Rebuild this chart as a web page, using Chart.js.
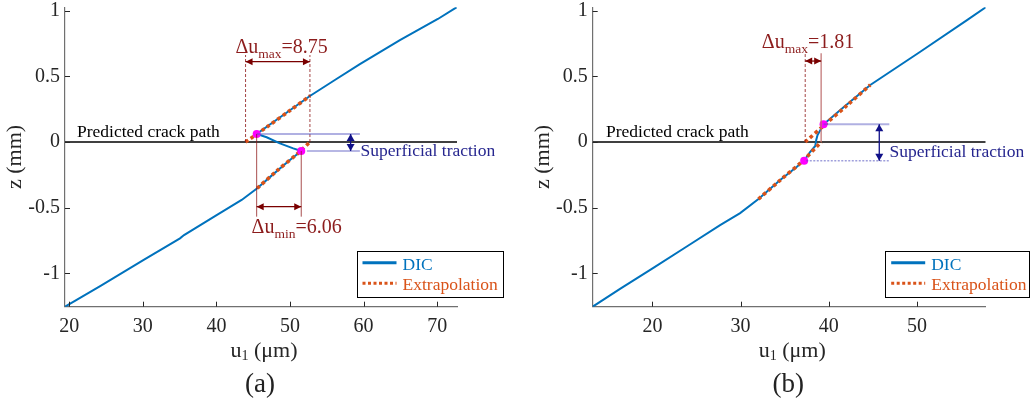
<!DOCTYPE html>
<html>
<head>
<meta charset="utf-8">
<script src="https://cdn.jsdelivr.net/npm/chart.js@4.4.1/dist/chart.umd.min.js"></script>
<style>
  html, body { margin: 0; padding: 0; background: #ffffff; }
  #wrap { position: relative; width: 1030px; height: 402px; }
  .panel { position: absolute; top: 0; width: 515px; height: 402px; }
</style>
</head>
<body>
<div id="wrap">
  <div class="panel" style="left:0"><canvas id="ca" width="515" height="402"></canvas></div>
  <div class="panel" style="left:515px"><canvas id="cb" width="515" height="402"></canvas></div>
</div>
<script>
// ---- shared axis ticks ----
const zTicks = [-1, -0.5, 0, 0.5, 1];
const zTickLabels = ['-1', '-0.5', '0', '0.5', '1'];

// ---- panel (a) ----
const uTicksA = [20, 30, 40, 50, 60, 70];
const dicA_u = [19.42, 24.2, 30.06, 35.05, 35.6, 40.03, 43.43, 45.55, 47.62, 49.7, 51.53, 50.44, 48.63, 46.83, 45.47, 48.95, 52.71, 56.1, 59.5, 64.94, 70.1, 72.64];
const dicA_z = [-1.253, -1.096, -0.898, -0.733, -0.708, -0.556, -0.441, -0.352, -0.25, -0.15, -0.068, -0.048, -0.010, 0.036, 0.061, 0.2, 0.35, 0.472, 0.592, 0.775, 0.936, 1.025];
const extUpA_u = [43.96, 47.0, 50.0, 52.71];
const extUpA_z = [0.0, 0.12, 0.24, 0.35];
const extLoA_u = [45.55, 48.2, 51.0, 52.71];
const extLoA_z = [-0.352, -0.22, -0.09, 0.0];
const tipA_u = [45.47, 51.53];
const tipA_z = [0.061, -0.068];

// ---- panel (b) ----
const uTicksB = [20, 30, 40, 50];
const dicB_u = [13.23, 16.33, 20.11, 23.9, 27.68, 29.95, 32.03, 34.49, 36.39, 37.21, 37.9, 38.47, 38.58, 38.73, 39.41, 41.68, 44.71, 50.38, 55.68, 57.8];
const dicB_z = [-1.253, -1.117, -0.958, -0.795, -0.632, -0.541, -0.434, -0.289, -0.188, -0.142, -0.074, -0.030, 0.015, 0.053, 0.135, 0.264, 0.434, 0.687, 0.928, 1.025];
const extUpB_u = [37.33, 39.6, 42.1, 44.71];
const extUpB_z = [0.0, 0.135, 0.28, 0.434];
const extLoB_u = [32.03, 34.5, 36.95, 39.14];
const extLoB_z = [-0.434, -0.29, -0.15, 0.0];
const tipB_u = [39.41, 37.21];
const tipB_z = [0.135, -0.142];

const SERIF = '"Liberation Serif", "Times New Roman", Times, serif';
const BLUE = '#0072BD';
const ORANGE = '#D95319';
const MAGENTA = '#FF00FF';
const DARKRED = '#8c1c1c';
const NAVY = '#101088';
const NAVYTXT = '#26268f';

const pts = (us, zs) => us.map((u, i) => ({ x: u, y: zs[i] }));

function rich(ctx, parts, x, yBase, align, color) {
  ctx.save();
  ctx.fillStyle = color;
  ctx.textBaseline = 'alphabetic';
  ctx.textAlign = 'left';
  let w = 0;
  for (const p of parts) { ctx.font = p.size + 'px ' + SERIF; p.w = ctx.measureText(p.t).width; w += p.w; }
  let cx = align === 'center' ? x - w / 2 : (align === 'right' ? x - w : x);
  for (const p of parts) {
    ctx.font = p.size + 'px ' + SERIF;
    ctx.fillText(p.t, cx, yBase + (p.dy || 0));
    cx += p.w;
  }
  ctx.restore();
}

function head(ctx, tx, ty, dx, dy, len, half) {
  const bx = tx - dx * len, by = ty - dy * len;
  ctx.beginPath();
  ctx.moveTo(tx, ty);
  ctx.lineTo(bx - dy * half, by + dx * half);
  ctx.lineTo(bx + dy * half, by - dx * half);
  ctx.closePath();
  ctx.fill();
}

function hArrow(ctx, x1, x2, y, color) {
  ctx.save();
  ctx.strokeStyle = color; ctx.fillStyle = color; ctx.lineWidth = 1.3;
  ctx.beginPath(); ctx.moveTo(x1, y); ctx.lineTo(x2, y); ctx.stroke();
  head(ctx, x1, y, -1, 0, 7, 3.5);
  head(ctx, x2, y, 1, 0, 7, 3.5);
  ctx.restore();
}

function vArrow(ctx, x, y1, y2, color) {
  ctx.save();
  ctx.strokeStyle = color; ctx.fillStyle = color; ctx.lineWidth = 1.3;
  ctx.beginPath(); ctx.moveTo(x, y1); ctx.lineTo(x, y2); ctx.stroke();
  head(ctx, x, y1, 0, -1, 7, 4);
  head(ctx, x, y2, 0, 1, 7, 4);
  ctx.restore();
}

function vLine(ctx, x, y1, y2, color, dash, width) {
  ctx.save();
  ctx.strokeStyle = color; ctx.lineWidth = width || 1;
  ctx.setLineDash(dash || []);
  ctx.beginPath(); ctx.moveTo(x, y1); ctx.lineTo(x, y2); ctx.stroke();
  ctx.restore();
}

function hLine(ctx, x1, x2, y, color, dash, width) {
  ctx.save();
  ctx.strokeStyle = color; ctx.lineWidth = width || 1;
  ctx.setLineDash(dash || []);
  ctx.beginPath(); ctx.moveTo(x1, y); ctx.lineTo(x2, y); ctx.stroke();
  ctx.restore();
}

function overlay(spec) {
  return {
    id: 'overlay' + spec.tag,
    afterDatasetsDraw(chart) {
      const ctx = chart.ctx;
      const a = chart.chartArea;
      const X = u => chart.scales.x.getPixelForValue(u);
      const Y = z => chart.scales.y.getPixelForValue(z);

      // inward tick marks
      ctx.save();
      ctx.strokeStyle = '#262626'; ctx.lineWidth = 1;
      for (const u of spec.uTicks) {
        const x = Math.round(X(u)) + 0.5;
        ctx.beginPath(); ctx.moveTo(x, a.bottom); ctx.lineTo(x, a.bottom - 5); ctx.stroke();
      }
      for (const z of zTicks) {
        const y = Math.round(Y(z)) + 0.5;
        ctx.beginPath(); ctx.moveTo(a.left, y); ctx.lineTo(a.left + 5, y); ctx.stroke();
      }
      ctx.restore();

      // crack path label
      rich(ctx, [{ t: 'Predicted crack path', size: 17.5 }], X(spec.crackU), Y(0.040), 'left', '#000');

      // opening at the crack: difference of the two extrapolations at z = 0
      const uL = spec.extUp_u[0];
      const uR = spec.extLo_u[spec.extLo_u.length - 1];
      const dm = spec.dMax;
      vLine(ctx, X(uL), Y(0), Y(dm.top), 'rgba(140,20,20,0.8)', [3, 2], 1);
      vLine(ctx, X(uR), Y(0), Y(dm.top), dm.rightColor, dm.rightDash, dm.rightWidth);
      hArrow(ctx, X(uL), X(uR), Y(dm.arrowZ), '#7a0000');
      rich(ctx, [{ t: 'Δu', size: 20 }, { t: 'max', size: 13.5, dy: 5 }, { t: '=' + (uR - uL).toFixed(2), size: 20 }],
        X(dm.labelU), Y(dm.labelZ), 'center', DARKRED);

      // opening between the two traction tips
      if (spec.dMin) {
        const mn = spec.dMin;
        const u1 = spec.tip_u[0], u2 = spec.tip_u[1];
        vLine(ctx, X(u1), Y(spec.tip_z[0]), Y(mn.bottom), 'rgba(140,20,20,0.75)', [], 1);
        vLine(ctx, X(u2), Y(spec.tip_z[1]), Y(mn.bottom), 'rgba(140,20,20,0.75)', [], 1);
        hArrow(ctx, X(u1), X(u2), Y(mn.arrowZ), '#7a0000');
        rich(ctx, [{ t: 'Δu', size: 20 }, { t: 'min', size: 13.5, dy: 5 }, { t: '=' + (u2 - u1).toFixed(2), size: 20 }],
          X(mn.labelU), Y(mn.labelZ), 'left', DARKRED);
      }

      // superficial traction zone
      const tr = spec.trac;
      hLine(ctx, X(spec.tip_u[0]), X(tr.endU), Y(spec.tip_z[0]), 'rgba(80,80,190,0.45)', tr.upDash, 2);
      hLine(ctx, X(tr.loStartU), X(tr.endU), Y(spec.tip_z[1]), 'rgba(80,80,190,0.55)', tr.loDash, 1.5);
      vArrow(ctx, X(tr.arrowU), Y(spec.tip_z[0]), Y(spec.tip_z[1]), NAVY);
      rich(ctx, [{ t: 'Superficial traction', size: 17.5 }], X(tr.labelU), Y(tr.labelZ), 'left', NAVYTXT);

      // legend
      const bx = a.right - 100.5, by = a.bottom - 56, bw = spec.legendW, bh = 46;
      ctx.save();
      ctx.fillStyle = '#fff';
      ctx.fillRect(bx, by, bw, bh);
      ctx.strokeStyle = '#000'; ctx.lineWidth = 1;
      ctx.strokeRect(Math.round(bx) + 0.5, Math.round(by) + 0.5, bw, bh);
      const ds = chart.data.datasets;
      const dic = ds.find(d => d.label === 'DIC');
      const ext = ds.find(d => d.label === 'Extrapolation');
      ctx.strokeStyle = dic.borderColor; ctx.lineWidth = 3;
      ctx.beginPath(); ctx.moveTo(bx + 6, by + 12); ctx.lineTo(bx + 40, by + 12); ctx.stroke();
      ctx.strokeStyle = ext.borderColor; ctx.lineWidth = 3; ctx.setLineDash([3, 2.5]);
      ctx.beginPath(); ctx.moveTo(bx + 6, by + 32.5); ctx.lineTo(bx + 40, by + 32.5); ctx.stroke();
      ctx.restore();
      rich(ctx, [{ t: dic.label, size: 17.5 }], bx + 46, by + 19.3, 'left', dic.borderColor);
      rich(ctx, [{ t: ext.label, size: 17.5 }], bx + 46, by + 39.3, 'left', ext.borderColor);

      // axis titles and panel tag
      const cx = (a.left + a.right) / 2 + 3;
      rich(ctx, [{ t: 'u', size: 22 }, { t: '1', size: 14, dy: 3 }, { t: ' (μm)', size: 22 }], cx, 356.7, 'center', '#262626');
      rich(ctx, [{ t: spec.tag, size: 27 }], cx - 4, 391.7, 'center', '#222');
      ctx.save();
      ctx.translate(a.left - 49.5, (a.top + a.bottom) / 2);
      ctx.rotate(-Math.PI / 2);
      ctx.font = '22px ' + SERIF;
      ctx.fillStyle = '#262626';
      ctx.textAlign = 'center'; ctx.textBaseline = 'middle';
      ctx.fillText('z (mm)', 0, 0);
      ctx.restore();
    }
  };
}

function makePanel(canvasId, spec) {
  const datasets = [
    { label: 'tips', data: pts(spec.tip_u, spec.tip_z), showLine: false,
      pointRadius: 4, pointBackgroundColor: MAGENTA, pointBorderWidth: 0 },
    { label: 'Extrapolation', data: pts(spec.extUp_u, spec.extUp_z), showLine: true,
      borderColor: ORANGE, borderWidth: 3.6, borderDash: [3.5, 3], pointRadius: 0, tension: 0.3 },
    { label: 'Extrapolation lower', data: pts(spec.extLo_u, spec.extLo_z), showLine: true,
      borderColor: ORANGE, borderWidth: 3.6, borderDash: [3.5, 3], pointRadius: 0, tension: 0.3 },
    { label: 'DIC', data: pts(spec.dic_u, spec.dic_z), showLine: true,
      borderColor: BLUE, borderWidth: 2, pointRadius: 0, tension: 0 },
    { label: 'crack', data: [{ x: spec.uMin, y: 0 }, { x: spec.uMax, y: 0 }], showLine: true,
      borderColor: '#000', borderWidth: 1.3, pointRadius: 0 }
  ];
  return new Chart(document.getElementById(canvasId), {
    type: 'scatter',
    data: { datasets },
    options: {
      responsive: false,
      animation: false,
      devicePixelRatio: 1,
      layout: { padding: { top: 7.3, right: spec.padRight, left: 0, bottom: 0 } },
      plugins: { legend: { display: false }, tooltip: { enabled: false } },
      scales: {
        x: {
          type: 'linear', min: spec.uMin, max: spec.uMax,
          afterBuildTicks: s => { s.ticks = spec.uTicks.map(v => ({ value: v })); },
          afterFit: s => { s.height = 95.3; s.paddingLeft = 0; s.paddingRight = 0; },
          grid: { display: false, drawTicks: false },
          border: { display: true, color: '#707070', width: 1.2 },
          ticks: { font: { family: SERIF, size: 20 }, color: '#262626', padding: 8, maxRotation: 0, autoSkip: false,
                   callback: v => String(v) }
        },
        y: {
          type: 'linear', min: -1.253, max: 1.025,
          afterBuildTicks: s => { s.ticks = zTicks.map(v => ({ value: v })); },
          afterFit: s => { s.width = spec.leftW; s.paddingTop = 0; s.paddingBottom = 0; },
          grid: { display: false, drawTicks: false },
          border: { display: true, color: '#707070', width: 1.2 },
          ticks: { font: { family: SERIF, size: 20 }, color: '#262626', padding: 5,
                   callback: v => zTickLabels[zTicks.indexOf(v)] }
        }
      }
    },
    plugins: [overlay(spec)]
  });
}

makePanel('ca', {
  tag: '(a)', uMin: 19.42, uMax: 72.7, uTicks: uTicksA, leftW: 65, padRight: 58, legendW: 146,
  dic_u: dicA_u, dic_z: dicA_z, extUp_u: extUpA_u, extUp_z: extUpA_z, extLo_u: extLoA_u, extLo_z: extLoA_z,
  tip_u: tipA_u, tip_z: tipA_z, crackU: 21.05,
  dMax: { top: 0.662, arrowZ: 0.611, labelU: 48.86, labelZ: 0.680, rightColor: 'rgba(140,20,20,0.8)', rightDash: [3, 2], rightWidth: 1 },
  dMin: { bottom: -0.568, arrowZ: -0.492, labelU: 44.78, labelZ: -0.695 },
  trac: { endU: 59.5, loStartU: 52.3, arrowU: 58.24, labelU: 59.6, labelZ: -0.107, upDash: [], loDash: [] }
});

makePanel('cb', {
  tag: '(b)', uMin: 13.23, uMax: 57.8, uTicks: uTicksB, leftW: 77.7, padRight: 44.3, legendW: 144,
  dic_u: dicB_u, dic_z: dicB_z, extUp_u: extUpB_u, extUp_z: extUpB_z, extLo_u: extLoB_u, extLo_z: extLoB_z,
  tip_u: tipB_u, tip_z: tipB_z, crackU: 14.74,
  dMax: { top: 0.675, arrowZ: 0.616, labelU: 37.65, labelZ: 0.713, rightColor: 'rgba(190,110,110,0.8)', rightDash: [], rightWidth: 1.5 },
  dMin: null,
  trac: { endU: 46.87, loStartU: 37.45, arrowU: 45.73, labelU: 46.9, labelZ: -0.112, upDash: [], loDash: [2, 1.5] }
});
</script>
</body>
</html>
